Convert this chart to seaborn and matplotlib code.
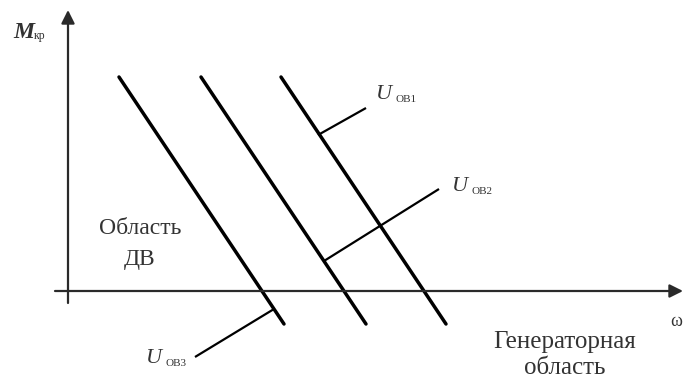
import numpy as np
import pandas as pd
import matplotlib
matplotlib.use('Agg')
import matplotlib.pyplot as plt
import seaborn as sns

# Schematic data: speed (omega) and torque (M) in drawing units, origin at axes cross
curve_names = ['U_OB3', 'U_OB2', 'U_OB1']
omega_top = [51, 133, 213]
omega_bottom = [216, 298, 378]
m_top = 214
m_bottom = -33

# Leader lines from each curve to its label
leader_start_x = [250, 256, 206]
leader_start_y = [156, 30, -18]
leader_end_x = [298, 371, 127]
leader_end_y = [183, 102, -66]
leader_labels = ['ОВ1', 'ОВ2', 'ОВ3']
label_x = [308, 384, 78]
label_y = [192, 100, -72]

# Axis extents
x_axis = [-13, 615]
y_axis = [-12, 281]

sns.set_style('white')
plt.rcParams['font.family'] = ['Liberation Serif', 'DejaVu Serif']

# Build a long table for seaborn
rows = []
for name, x0, x1 in zip(curve_names, omega_top, omega_bottom):
    rows.append({'curve': name, 'omega': x0, 'M': m_top})
    rows.append({'curve': name, 'omega': x1, 'M': m_bottom})
df = pd.DataFrame(rows)

fig = plt.figure(figsize=(6.89, 3.80), dpi=100)
ax = fig.add_axes([0, 0, 1, 1])

sns.lineplot(data=df, x='omega', y='M', units='curve', estimator=None,
             color='black', lw=2.5, ax=ax, legend=False, sort=False)

for sx, sy, ex, ey in zip(leader_start_x, leader_start_y, leader_end_x, leader_end_y):
    ax.plot([sx, ex], [sy, ey], color='black', lw=1.6, solid_capstyle='butt')

# Axes with arrows
axis_color = '#2a2a2a'
ax.annotate('', xy=(x_axis[1], 0), xytext=(x_axis[0], 0),
            arrowprops=dict(arrowstyle='-|>', color=axis_color, lw=1.6,
                            mutation_scale=20, shrinkA=0, shrinkB=0))
ax.annotate('', xy=(0, y_axis[1]), xytext=(0, y_axis[0]),
            arrowprops=dict(arrowstyle='-|>', color=axis_color, lw=1.6,
                            mutation_scale=20, shrinkA=0, shrinkB=0))

text_color = '#333333'
# Curve labels
for lx, ly, sub in zip(label_x, label_y, leader_labels):
    ax.text(lx, ly, 'U', fontsize=16, style='italic', color=text_color,
            ha='left', va='baseline')
    ax.text(lx + 20, ly - 3, sub, fontsize=8, color=text_color,
            ha='left', va='baseline')

# Axis labels
ax.text(-55, 253, 'M', fontsize=17, style='italic', fontweight='bold',
        color=text_color, ha='left', va='baseline')
ax.text(-34, 252, 'кр', fontsize=8.5, color=text_color, ha='left', va='baseline')
ax.text(608, -31, 'ω', fontsize=13, color=text_color, ha='center', va='center')

# Region labels
ax.text(72, 62, 'Область', fontsize=17, color=text_color, ha='center', va='center')
ax.text(72, 32, 'ДВ', fontsize=17, color=text_color, ha='center', va='center')
ax.text(497, -51, 'Генераторная', fontsize=18, color=text_color, ha='center', va='center')
ax.text(497, -77, 'область', fontsize=18, color=text_color, ha='center', va='center')

ax.set_xlim(-68, 621)
ax.set_ylim(-89, 291)
ax.axis('off')

fig.savefig('out.png', dpi=100)
